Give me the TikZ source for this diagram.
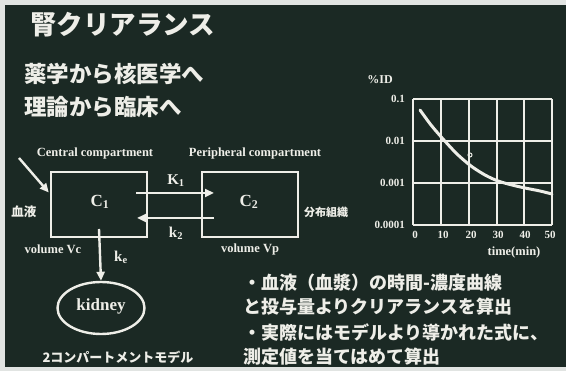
\documentclass[tikz,border=0pt]{standalone}
\usepackage{fontspec}
\setmainfont{Liberation Serif}
\newfontfamily\cjk{Noto Sans CJK JP}
\usetikzlibrary{arrows.meta,calc,shapes.geometric}
\definecolor{bg}{RGB}{27,41,36}
\definecolor{fg}{RGB}{238,238,232}
\definecolor{margin}{RGB}{225,228,226}
\tikzset{
  jtext/.style={text=fg, inner sep=0pt, font=\cjk\bfseries},
  ltext/.style={text=fg, inner sep=0pt, font=\bfseries\fontsize{12.5}{13}\selectfont},
  comp/.style={draw=fg, line width=2.4pt, minimum width=96pt, minimum height=65pt, inner sep=0pt},
  flow/.style={draw=fg, line width=2.4pt, -{Triangle[length=9pt,width=8pt]}, fg},
  gridl/.style={draw=fg, line width=1.4pt},
  tick/.style={text=fg, inner sep=0pt, font=\bfseries\fontsize{11}{11}\selectfont},
}
\begin{document}
\begin{tikzpicture}[x=1pt,y=-1pt]
\useasboundingbox (0,0) rectangle (566,371);
\fill[margin] (0,0) rectangle (566,371);
\fill[bg] (5,5) rectangle (566,367);

% titles
\node[jtext, anchor=west, font=\cjk\bfseries\fontsize{26.5}{27}\selectfont] (title) at (30,25) {腎クリアランス};
\node[jtext, anchor=west, font=\cjk\bfseries\fontsize{22.5}{23}\selectfont] (l1) at (24,74) {薬学から核医学へ};
\node[jtext, anchor=west, font=\cjk\bfseries\fontsize{22.5}{23}\selectfont] (l2) at (24,107) {理論から臨床へ};

% compartments
\node[comp] (c1) at (99,204.5) {};
\node[comp] (c2) at (250,204.5) {};
\node[ltext, font=\bfseries\fontsize{17}{17}\selectfont] (c1t) at (100,202) {C\textsubscript{1}};
\node[ltext, font=\bfseries\fontsize{17}{17}\selectfont] (c2t) at (249,202) {C\textsubscript{2}};
\node[ltext] (cc) at (95,153) {Central compartment};
\node[ltext] (pc) at (255,153) {Peripheral compartment};
\node[ltext] (vc) at (53,249) {volume Vc};
\node[ltext] (vp) at (250,249) {volume Vp};
\node[jtext, font=\cjk\bfseries\fontsize{12.5}{13}\selectfont] (blood) at (24,212) {血液};
\node[jtext, font=\cjk\bfseries\fontsize{11}{11}\selectfont, anchor=west] (tissue) at (304,212) {分布組織};

% exchange arrows
\coordinate (k1s) at (136,193);
\coordinate (k1e) at (214,193);
\coordinate (k2s) at (214,218);
\coordinate (k2e) at (137,218);
\draw[flow] (k1s) -- (k1e);
\draw[flow] (k2s) -- (k2e);
\node[ltext, font=\bfseries\fontsize{15}{15}\selectfont] (k1) at (176,181) {K\textsubscript{1}};
\node[ltext, font=\bfseries\fontsize{15}{15}\selectfont] (k2) at (176,233) {k\textsubscript{2}};

% input arrow
\coordinate (ins) at (19,158);
\draw[flow] (ins) -- ($(c1.west)+(-1,-12)$);

% kidney
\node[draw=fg, line width=2.4pt, ellipse, minimum width=87pt, minimum height=52pt, inner sep=0pt] (kid) at (101,308) {};
\node[ltext, font=\bfseries\fontsize{17}{17}\selectfont] (kidt) at (101,306) {kidney};
\coordinate (kes) at (99,229);
\draw[flow] (kes) -- (kid.north);
\node[ltext, font=\bfseries\fontsize{15}{15}\selectfont] (ke) at (121,257) {k\textsubscript{e}};
\node[jtext, font=\cjk\bfseries\fontsize{13}{13}\selectfont] (model) at (118,357) {2コンパートメントモデル};

% graph
\foreach \i/\x in {0/413,1/441,2/469,3/497,4/524,5/552}{
  \draw[gridl] (\x,99) -- (\x,225);
}
\foreach \y in {99,141,183,225}{
  \draw[gridl] (413,\y) -- (552,\y);
}
\foreach \v/\x in {0/415,10/443,20/471,30/498,40/525,50/550}{
  \node[tick] at (\x,235) {\v};
}
\node[tick, anchor=east] at (405,99) {0.1};
\node[tick, anchor=east] at (405,141) {0.01};
\node[tick, anchor=east] at (405,183) {0.001};
\node[tick, anchor=east] at (405,225) {0.0001};
\node[tick, font=\bfseries\fontsize{12}{12}\selectfont] (pid) at (380,80) {\%ID};
\node[tick, font=\bfseries\fontsize{12.5}{13}\selectfont] (tm) at (514,252) {time(min)};
\draw[fg, line width=3pt, line cap=round] plot[smooth] coordinates {(420,110) (431,125) (443,139) (457,154) (471,166) (485,175) (498,181) (512,185) (525,188) (540,191) (552,194)};
\draw[fg, line width=1pt] (470,155) circle (2pt);

% notes
\node[jtext, anchor=west, font=\cjk\bfseries\fontsize{18}{18}\selectfont] (n1) at (243,283) {・血液（血漿）の時間-濃度曲線};
\node[jtext, anchor=west, font=\cjk\bfseries\fontsize{18}{18}\selectfont] (n2) at (243,307) {と投与量よりクリアランスを算出};
\node[jtext, anchor=west, font=\cjk\bfseries\fontsize{18}{18}\selectfont] (n3) at (243,332) {・実際にはモデルより導かれた式に、};
\node[jtext, anchor=west, font=\cjk\bfseries\fontsize{18}{18}\selectfont] (n4) at (243,357) {測定値を当てはめて算出};
\end{tikzpicture}
\end{document}
